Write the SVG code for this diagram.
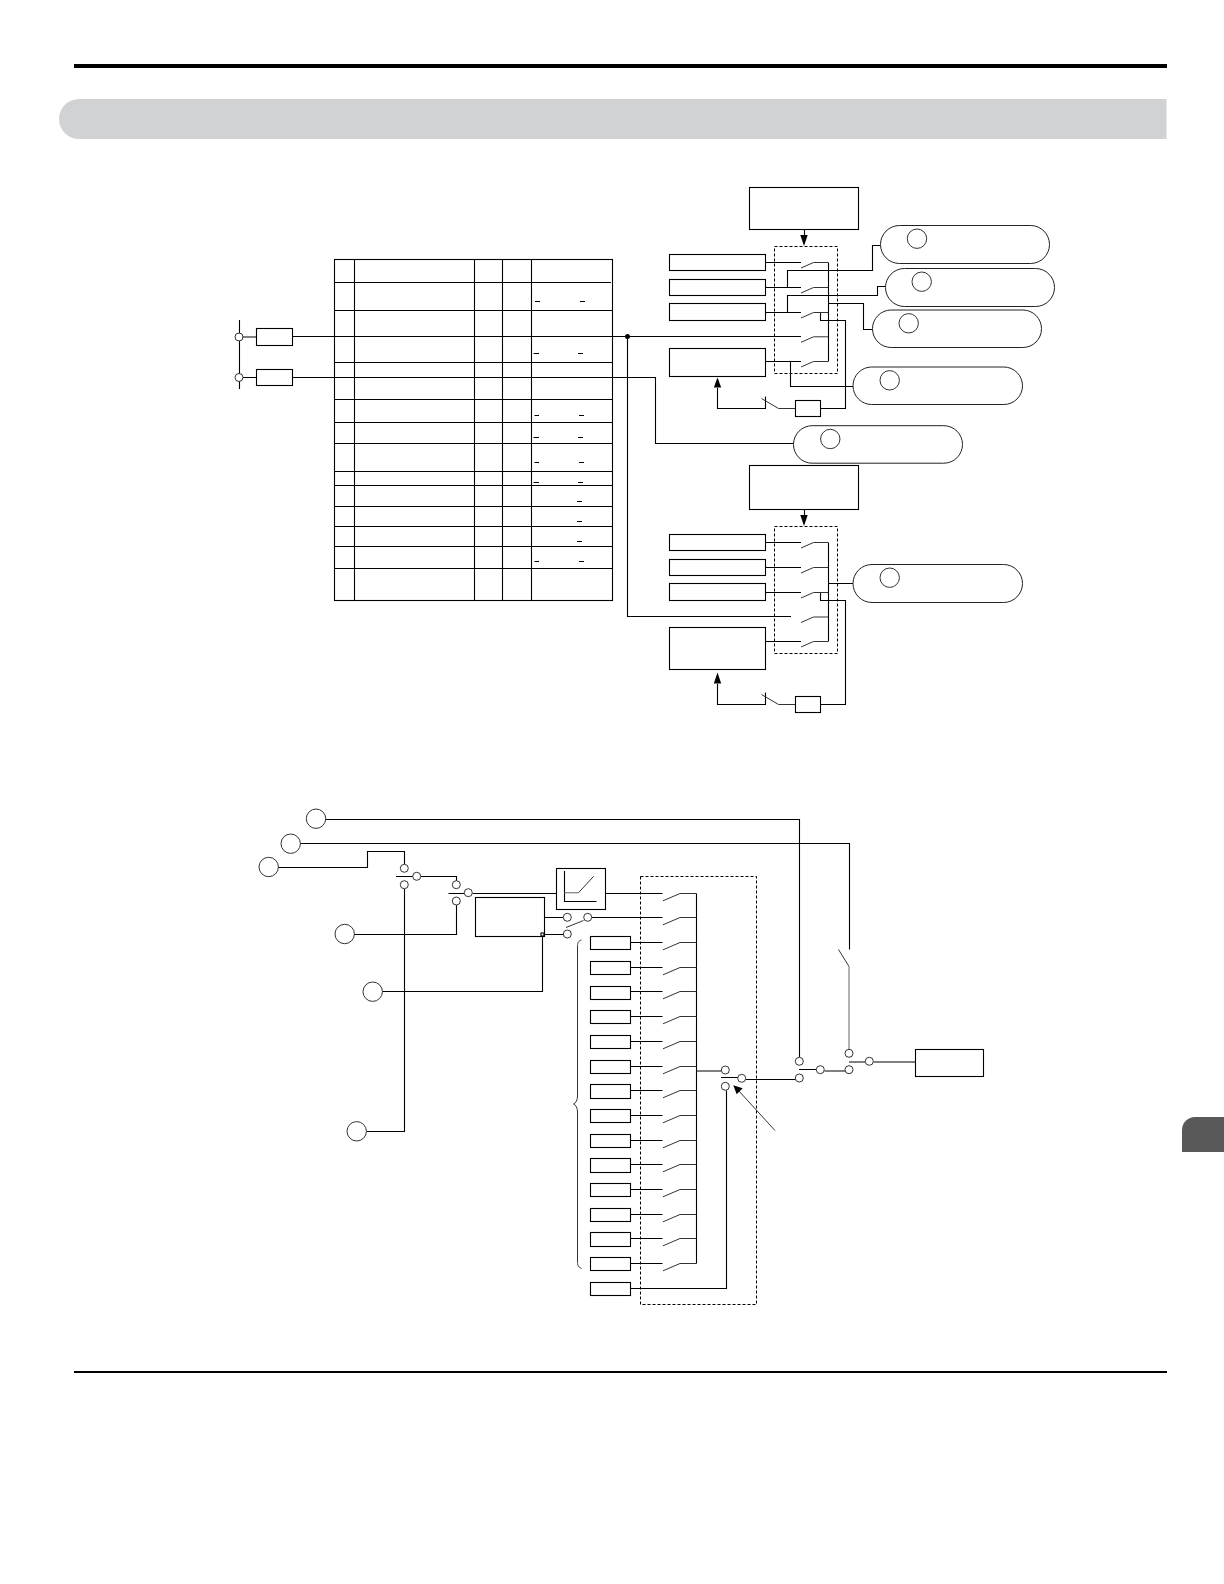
<svg xmlns="http://www.w3.org/2000/svg" width="1224" height="1584" viewBox="0 0 1224 1584">
<style>
.b{fill:#fff;stroke:#000;stroke-width:1.1}
.w{fill:none;stroke:#000;stroke-width:1.1}
.s{fill:none;stroke:#333;stroke-width:1}
.g{fill:none;stroke:#888;stroke-width:1.3}
.p{fill:#fff;stroke:#222;stroke-width:1}
.c{fill:#fff;stroke:#333;stroke-width:1}
.d{fill:none;stroke:#000;stroke-width:1;stroke-dasharray:3 2}
.h{fill:#000;stroke:none}
</style>
<defs>
<circle id="sc" r="4" class="c"/>
<circle id="lc" r="9.7" class="c"/>
<path id="blade" class="s" d="M0 7.3L17 0H33.5"/>
<path id="bladeR" class="s" d="M0 5.5L12.5 0H27"/>
<path id="arrow" class="h" d="M-3.7 0H3.7L0 11Z"/>
</defs>
<g id="header">
<rect x="74" y="64" width="1093" height="4" fill="#000"/>
<path d="M79 99H1166.5V139H79A20 20 0 0 1 79 99Z" fill="#d1d2d3"/>
<rect x="74" y="1371" width="1093" height="2" fill="#000"/>
<path d="M1224 1117H1195A13 13 0 0 0 1182 1130V1152H1224Z" fill="#595959"/>
</g>
<g id="table">
<rect class="w" x="334.5" y="259.5" width="278" height="341"/>
<path class="w" d="M354.5 259.5V600.5M474.5 259.5V600.5M502.5 259.5V600.5M531.5 259.5V600.5"/>
<path class="w" d="M334.5 282.5H611M334.5 310.5H612M334.5 362.5H612M334.5 399.5H612M334.5 422.5H612M334.5 443.5H612M334.5 471.5H612M334.5 485.5H612M334.5 506.5H612M334.5 526.5H612M334.5 546.5H612M334.5 568.5H612"/>
<path class="w" d="M535 301.5H540M580 301.5H585M533.500 353.500H539M578 353.500H583M534.500 415.500H539M579 415.500H584M533.500 437.500H539M578 437.500H583M534.500 462.500H539M579 462.500H584M533.500 482.500H539M578 482.500H583M577 501.500H582M577 521.500H582M577 541.500H582M534.500 561.500H539M579 561.500H584"/>
</g>
<g id="connectors">
<path class="w" d="M239.500 320V389M239.500 337H256.500M239.500 377.500H256.500"/>
<path class="w" d="M292.500 336.500H801M292.500 377.500H655.500V443.500H793.500"/>
<path class="w" d="M627.500 336.500V616.500H791"/>
<path class="w" d="M804.500 229.500V236M804.500 509.500V516"/>
<path class="w" d="M765.500 262.500H801M765.500 287.500H801M765.500 312.500H801M765.500 361.500H801"/>
<path class="w" d="M828.500 262.500V361.500"/>
<path class="w" d="M787.500 287.500V270.500H872.500V245.500H880M787.500 312.500V295.500H877.500V286.500H885M828.500 303.500H863.500V329.500H872.500"/>
<path class="w" d="M820.500 312.500V320.500H845.500V408.500H820.500M790.500 361.500V386.500H853"/>
<path class="w" d="M765.500 396.500V408.500H717.500V388"/>
<path class="w" d="M765.500 542.500H801M765.500 567.500H801M765.500 592.500H801M765.500 641.500H801"/>
<path class="w" d="M828.500 542.500V641.500M828.500 583.500H853"/>
<path class="w" d="M820.500 592.500V600.500H845.500V704.500H820.500"/>
<path class="w" d="M765.500 692.500V704.500H717.500V684"/>
<path class="w" d="M325 819.500H799.500V1057M300 843.500H849.500V949.500"/>
<path class="w" d="M278 867.500H367.500V851.500H404.500V864"/>
<path class="w" d="M420.500 876.500H456.500V881M396 876.500H413M448.500 893.500H465M472.500 893.500H556.500"/>
<path class="w" d="M404.500 889V1131.500H366.500"/>
<path class="w" d="M354 934.500H456.500V905"/>
<path class="w" d="M382 991.500H542.500V934.500H563"/>
<path class="w" d="M544.500 917.500H563M592 917.500H662.500M605.500 893.500H662.500"/>
<path class="w" d="M696.500 893.500V1263.500M696.500 1071H721M721 1077.500H738M746 1079.500H795.500"/>
<path class="w" d="M799 1069.500H816M824.500 1071H845M849 1062H865M873.500 1062H915.500"/>
<path class="w" d="M726.500 1090.500V1288.500H630.500"/>
<path class="w" d="M630.500 942.500H662.500M630.500 967.500H662.500M630.500 991.500H662.500M630.500 1016.500H662.500M630.500 1041.500H662.500M630.500 1066.500H662.500M630.500 1090.500H662.500M630.500 1115.500H662.500M630.500 1140.500H662.500M630.500 1164.500H662.500M630.500 1189.500H662.500M630.500 1214.500H662.500M630.500 1238.500H662.500M630.500 1263.500H662.500"/>
<path class="s" d="M566 927.500L583.500 920.500"/>
<path class="s" d="M838.500 949.500L849 966.500"/>
<path class="g" d="M849 966.500V1049"/>
<path class="s" d="M775 1130.500L738 1090"/>
<path class="h" d="M733.300 1085.300L736.700 1094.300L742.700 1088.300Z"/>
<path class="s" d="M581.500 940C578 941 577.500 943 577.500 947V1096C577.500 1100 576 1103 573.500 1104C576 1105 577.500 1108 577.500 1112V1261C577.500 1265 578 1267 581.500 1268.500"/>
<circle cx="627.500" cy="336.500" r="2.500" fill="#000"/>
</g>
<g id="top-switches">
<rect class="d" x="774.500" y="246.500" width="63" height="127"/>
<use href="#bladeR" x="801" y="262.500"/><use href="#bladeR" x="801" y="287.500"/><use href="#bladeR" x="801" y="312.500"/><use href="#bladeR" x="801" y="336.800"/><use href="#bladeR" x="801" y="361.500"/>
<use href="#arrow" x="804" y="235"/>
<path class="s" d="M761.500 398.500L778.500 408.500H795.500"/>
<path class="h" d="M717.500 377.500L721.200 387.500H713.800Z"/>
</g>
<g id="bottom-switches">
<rect class="d" x="774.500" y="526.500" width="63" height="127"/>
<use href="#bladeR" x="801" y="542.500"/><use href="#bladeR" x="801" y="567.500"/><use href="#bladeR" x="801" y="592.500"/><use href="#bladeR" x="801" y="617"/><use href="#bladeR" x="801" y="641.500"/>
<use href="#arrow" x="804" y="515"/>
<path class="s" d="M761.500 694.500L778.500 704.500H795.500"/>
<path class="h" d="M717.500 672.500L721.200 683.500H713.800Z"/>
</g>
<g id="input-terminals">
<use href="#sc" x="239" y="337"/><use href="#sc" x="239" y="377.500"/>
<rect class="b" x="256.500" y="328.500" width="36" height="17"/>
<rect class="b" x="256.500" y="369.500" width="36" height="16"/>
</g>
<g id="top-ctrl"><rect class="b" x="749.500" y="187.500" width="109" height="42"/></g>
<g id="top-in-1"><rect class="b" x="669.500" y="254.500" width="96" height="16"/></g>
<g id="top-in-2"><rect class="b" x="669.500" y="279.500" width="96" height="16"/></g>
<g id="top-in-3"><rect class="b" x="669.500" y="303.500" width="96" height="17"/></g>
<g id="top-in-4"><rect class="b" x="669.500" y="348.500" width="96" height="28"/></g>
<g id="top-relay"><rect class="b" x="795.500" y="400.500" width="25" height="16"/></g>
<g id="pill-1"><rect class="p" x="880.500" y="225.500" width="169" height="38" rx="19"/><use href="#lc" x="917" y="238.700"/></g>
<g id="pill-2"><rect class="p" x="885.500" y="268.500" width="169" height="38" rx="19"/><use href="#lc" x="921.700" y="281.700"/></g>
<g id="pill-3"><rect class="p" x="872.500" y="310" width="169" height="37.500" rx="18.700"/><use href="#lc" x="908.700" y="323.300"/></g>
<g id="pill-4"><rect class="p" x="853" y="367" width="169.500" height="37.500" rx="18.700"/><use href="#lc" x="889.700" y="380.300"/></g>
<g id="pill-5"><rect class="p" x="793.500" y="425.700" width="169" height="37.500" rx="18.700"/><use href="#lc" x="830.300" y="439"/></g>
<g id="pill-6"><rect class="p" x="853" y="564.500" width="169.500" height="38" rx="19"/><use href="#lc" x="889.700" y="577.700"/></g>
<g id="bot-ctrl"><rect class="b" x="749.500" y="465.500" width="109" height="44"/></g>
<g id="bot-in-1"><rect class="b" x="669.500" y="534.500" width="96" height="16"/></g>
<g id="bot-in-2"><rect class="b" x="669.500" y="559.500" width="96" height="16"/></g>
<g id="bot-in-3"><rect class="b" x="669.500" y="583.500" width="96" height="17"/></g>
<g id="bot-in-4"><rect class="b" x="669.500" y="627.500" width="96" height="42"/></g>
<g id="bot-relay"><rect class="b" x="795.500" y="696.500" width="25" height="16"/></g>
<g id="source-1"><use href="#lc" x="316" y="818.700"/></g>
<g id="source-2"><use href="#lc" x="290.700" y="843.700"/></g>
<g id="source-3"><use href="#lc" x="268.700" y="867"/></g>
<g id="source-4"><use href="#lc" x="344.700" y="934"/></g>
<g id="source-5"><use href="#lc" x="372.700" y="991.700"/></g>
<g id="source-6"><use href="#lc" x="356.700" y="1131.300"/></g>
<g id="selector-a"><use href="#sc" x="404.300" y="868.300"/><use href="#sc" x="404.300" y="884.700"/><use href="#sc" x="416.700" y="876.300"/></g>
<g id="selector-b"><use href="#sc" x="456.300" y="884.700"/><use href="#sc" x="456.300" y="901"/><use href="#sc" x="468.300" y="892.700"/></g>
<g id="calc"><rect class="b" x="475.500" y="897.500" width="69" height="39"/><rect x="541" y="933" width="3" height="3" class="w"/></g>
<g id="selector-c"><use href="#sc" x="567.300" y="917.300"/><use href="#sc" x="567.300" y="934"/><use href="#sc" x="587.700" y="917.300"/></g>
<g id="ramp">
<rect class="b" x="556.500" y="868.500" width="49" height="41"/>
<path class="w" d="M564.500 871V901.500H596.500"/>
<path class="g" stroke-width="1.500" d="M564.500 892.700H578.500"/>
<path class="s" d="M578.500 892.700L593.700 876.300"/>
</g>
<g id="multi-switches">
<rect class="d" x="640.500" y="876.500" width="116" height="428"/>
<use href="#blade" x="663" y="893.500"/><use href="#blade" x="663" y="917.500"/><use href="#blade" x="663" y="942.500"/><use href="#blade" x="663" y="967.500"/><use href="#blade" x="663" y="991.500"/><use href="#blade" x="663" y="1016.500"/><use href="#blade" x="663" y="1041.500"/><use href="#blade" x="663" y="1066.500"/><use href="#blade" x="663" y="1090.500"/><use href="#blade" x="663" y="1115.500"/><use href="#blade" x="663" y="1140.500"/><use href="#blade" x="663" y="1164.500"/><use href="#blade" x="663" y="1189.500"/><use href="#blade" x="663" y="1214.500"/><use href="#blade" x="663" y="1238.500"/><use href="#blade" x="663" y="1263.500"/>
</g>
<g id="ref-1"><rect class="b" x="590.500" y="936.500" width="40" height="13"/></g>
<g id="ref-2"><rect class="b" x="590.500" y="961.500" width="40" height="13"/></g>
<g id="ref-3"><rect class="b" x="590.500" y="986.500" width="40" height="13"/></g>
<g id="ref-4"><rect class="b" x="590.500" y="1010.500" width="40" height="13"/></g>
<g id="ref-5"><rect class="b" x="590.500" y="1035.500" width="40" height="13"/></g>
<g id="ref-6"><rect class="b" x="590.500" y="1060.500" width="40" height="13"/></g>
<g id="ref-7"><rect class="b" x="590.500" y="1084.500" width="40" height="14"/></g>
<g id="ref-8"><rect class="b" x="590.500" y="1109.500" width="40" height="13"/></g>
<g id="ref-9"><rect class="b" x="590.500" y="1134.500" width="40" height="13"/></g>
<g id="ref-10"><rect class="b" x="590.500" y="1158.500" width="40" height="14"/></g>
<g id="ref-11"><rect class="b" x="590.500" y="1183.500" width="40" height="13"/></g>
<g id="ref-12"><rect class="b" x="590.500" y="1208.500" width="40" height="13"/></g>
<g id="ref-13"><rect class="b" x="590.500" y="1232.500" width="40" height="14"/></g>
<g id="ref-14"><rect class="b" x="590.500" y="1257.500" width="40" height="13"/></g>
<g id="ref-15"><rect class="b" x="590.500" y="1282.500" width="40" height="13"/></g>
<g id="selector-d"><use href="#sc" x="725.300" y="1070"/><use href="#sc" x="725.300" y="1086.300"/><use href="#sc" x="741.700" y="1078.300"/></g>
<g id="selector-e"><use href="#sc" x="799.300" y="1061.300"/><use href="#sc" x="799.300" y="1078"/><use href="#sc" x="820.300" y="1069.700"/></g>
<g id="selector-f"><use href="#sc" x="849" y="1053.300"/><use href="#sc" x="849" y="1069.700"/><use href="#sc" x="869.300" y="1061.300"/></g>
<g id="output"><rect class="b" x="915.500" y="1049.500" width="68" height="27"/></g>
</svg>
